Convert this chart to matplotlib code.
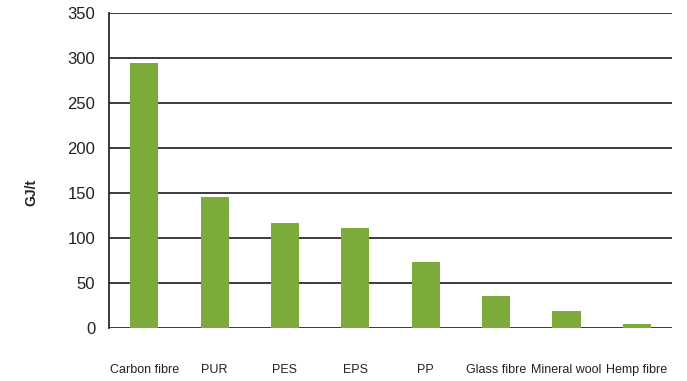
import matplotlib.pyplot as plt
import numpy as np

materials = ["Carbon fibre", "PUR", "PES", "EPS", "PP", "Glass fibre", "Mineral wool", "Hemp fibre"]
energy = [294, 145, 117, 111, 73, 36, 19, 4.5]
yticks = [0, 50, 100, 150, 200, 250, 300, 350]

plt.rcParams['font.family'] = ['Liberation Sans', 'DejaVu Sans']

fig = plt.figure(figsize=(6.87, 3.81), dpi=100)
ax = fig.add_axes([0.1587, 0.1391, 0.8195, 0.8268])

x = np.arange(len(materials))
ax.bar(x, energy, width=0.4, color="#7cab3c", zorder=3)

ax.set_ylim(0, 350)
ax.set_xlim(-0.5, len(materials) - 0.5)
ax.set_yticks(yticks)
ax.yaxis.grid(True, color="#2b2b2b", linewidth=1.3, zorder=1)
ax.tick_params(axis='y', length=0, pad=10, labelsize=12, labelcolor="#222222")
ax.set_xticks(x)
ax.set_xticklabels(materials, fontsize=9, color="#222222")
ax.tick_params(axis='x', length=0, pad=26)

for s in ["top", "right", "bottom"]:
    ax.spines[s].set_visible(False)
ax.spines["left"].set_color("#2b2b2b")
ax.spines["left"].set_linewidth(1.3)

ax.set_ylabel("GJ/t", fontsize=10, fontweight="bold", color="#222222")
ax.yaxis.set_label_coords(-0.125, 0.43)

fig.savefig("out.png", dpi=100)
